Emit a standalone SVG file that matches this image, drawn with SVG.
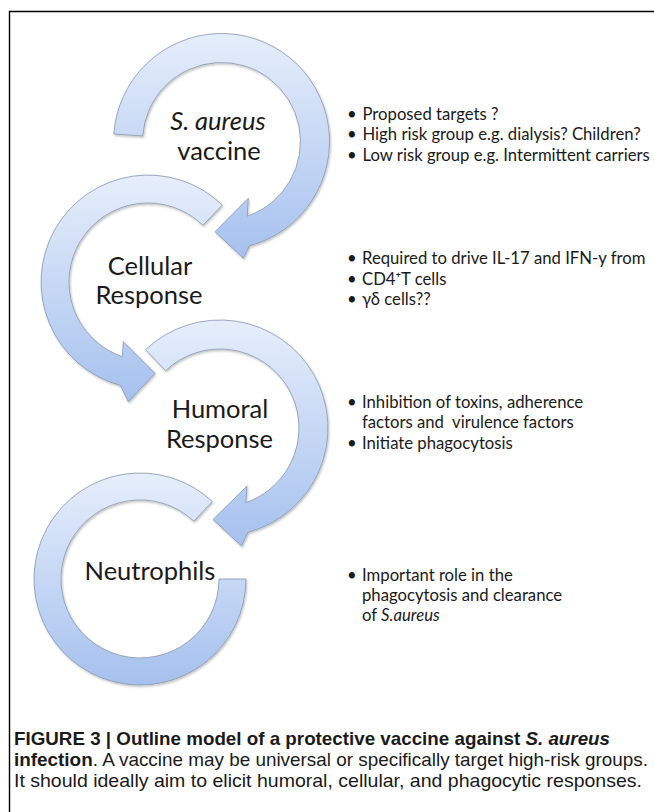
<svg xmlns="http://www.w3.org/2000/svg" width="654" height="812" viewBox="0 0 654 812">
  <defs>
    <linearGradient id="arcGrad" x1="0" y1="0" x2="0" y2="1">
      <stop offset="0" stop-color="#e6eefb"/>
      <stop offset="1" stop-color="#a6c1ee"/>
    </linearGradient>
    <filter id="shadow" x="-10%" y="-10%" width="120%" height="120%">
      <feDropShadow dx="1" dy="1.5" stdDeviation="1.2" flood-color="#000" flood-opacity="0.25"/>
    </filter>
    <style>
      .arc { fill: url(#arcGrad); stroke: #8796ad; stroke-width: 0.8; filter: url(#shadow); }
      .label { font-family: Lato, "Open Sans", sans-serif; font-size: 25.5px; fill: #1a1a1a; text-anchor: middle; }
      .note { font-family: Lato, "Open Sans", sans-serif; font-size: 16.7px; fill: #1a1a1a; }
      .pre { white-space: pre; }
      .cap { font-family: "Liberation Sans", Arial, sans-serif; font-size: 19px; fill: #1a1a1a; }
      .frame { fill: none; stroke: #000; stroke-width: 1.4; }
    </style>
  </defs>
  <rect width="654" height="812" fill="#fff"/>
  <path class="frame" d="M 9.5,812 L 9.5,11.5 L 654,11.5"/>

  <g id="node-vaccine">
    <path class="arc" d="M 113.8,134 A 108 108 0 1 1 249.5,245.8 L 243.3,258.3 L 215,231.7 L 248.3,198.3 L 247.2,216.2 A 79 79 0 1 0 142.7,136 Z"/>
    <text class="label" x="218" y="130" font-style="italic">S. aureus</text>
    <text class="label" x="219" y="160">vaccine</text>
  </g>

  <g id="node-cellular">
    <path class="arc" d="M 222.3,205 A 107 107 0 1 0 120.3,385.4 L 128.3,401.7 L 155,373.3 L 123.3,341.7 L 122.3,356.7 A 79 79 0 1 1 202.9,225.2 Z"/>
    <text class="label" x="150" y="275">Cellular</text>
    <text class="label" x="149" y="304">Response</text>
  </g>

  <g id="node-humoral">
    <path class="arc" d="M 145.6,349.7 A 108 108 0 1 1 248,532.3 L 241.5,546 L 213,519.5 L 247,486 L 245.7,502.7 A 79 79 0 1 0 165.6,370.7 Z"/>
    <text class="label" x="220" y="418">Humoral</text>
    <text class="label" x="219.5" y="448">Response</text>
  </g>

  <g id="node-neutrophils">
    <path class="arc" d="M 212.3,501.5 A 106 106 0 1 0 246,579 L 219,579 A 79 79 0 1 1 193.9,521.2 Z"/>
    <text class="label" x="150" y="580">Neutrophils</text>
  </g>

  <g id="notes-vaccine">
    <text class="note" y="119.5"><tspan x="347">•</tspan><tspan x="362.5">Proposed targets ?</tspan></text>
    <text class="note" y="140"><tspan x="347">•</tspan><tspan x="362.5">High risk group e.g. dialysis? Children?</tspan></text>
    <text class="note" y="160.5"><tspan x="347">•</tspan><tspan x="362.5">Low risk group e.g. Intermittent carriers</tspan></text>
  </g>

  <g id="notes-cellular">
    <text class="note" y="264"><tspan x="347">•</tspan><tspan x="362">Required to drive IL-17 and IFN-y from</tspan></text>
    <text class="note" y="284.5"><tspan x="347">•</tspan><tspan x="362">CD4⁺T cells</tspan></text>
    <text class="note" y="305"><tspan x="347">•</tspan><tspan x="362">γδ cells??</tspan></text>
  </g>

  <g id="notes-humoral">
    <text class="note" y="408"><tspan x="347">•</tspan><tspan x="362">Inhibition of toxins, adherence</tspan></text>
    <text class="note pre" x="362" y="428">factors and  virulence factors</text>
    <text class="note" y="449"><tspan x="347">•</tspan><tspan x="362">Initiate phagocytosis</tspan></text>
  </g>

  <g id="notes-neutrophils">
    <text class="note" y="580.5"><tspan x="347">•</tspan><tspan x="362">Important role in the</tspan></text>
    <text class="note" x="362" y="600.5">phagocytosis and clearance</text>
    <text class="note" x="362" y="620.5">of <tspan font-style="italic">S.aureus</tspan></text>
  </g>

  <g id="caption">
    <text class="cap" x="14" y="745" textLength="596" lengthAdjust="spacingAndGlyphs" font-weight="bold">FIGURE 3 | Outline model of a protective vaccine against <tspan font-style="italic">S. aureus</tspan></text>
    <text class="cap" x="14" y="766" textLength="634" lengthAdjust="spacingAndGlyphs"><tspan font-weight="bold">infection</tspan>. A vaccine may be universal or specifically target high-risk groups.</text>
    <text class="cap" x="14" y="787" textLength="628" lengthAdjust="spacingAndGlyphs">It should ideally aim to elicit humoral, cellular, and phagocytic responses.</text>
  </g>
</svg>
